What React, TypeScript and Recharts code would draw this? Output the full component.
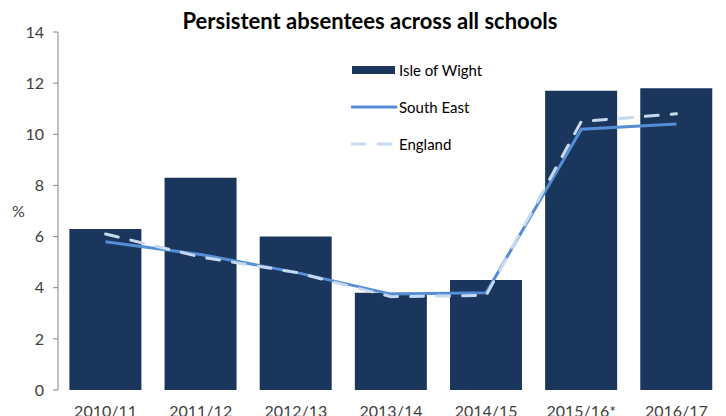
import {
  ComposedChart,
  Bar,
  Line,
  XAxis,
  YAxis,
  Legend,
} from "recharts";

const years = ["2010/11", "2011/12", "2012/13", "2013/14", "2014/15", "2015/16*", "2016/17"];
const isleOfWight = [6.3, 8.3, 6.0, 3.8, 4.3, 11.7, 11.8];
const southEast = [5.8, 5.3, 4.6, 3.75, 3.8, 10.2, 10.4];
const england = [6.1, 5.2, 4.6, 3.65, 3.7, 10.5, 10.8];
const yTicks = [0, 2, 4, 6, 8, 10, 12, 14];
const boundaryTicks = [0, 1, 2, 3, 4, 5, 6, 7];

const data = years.map((year, i) => ({
  year,
  iow: isleOfWight[i],
  se: southEast[i],
  eng: england[i],
}));

const FONT = "Lato, 'Open Sans', sans-serif";
const NAVY = "#1b365d";
const SE_BLUE = "#558ed5";
const ENG_BLUE = "#c6d9f1";
const AXIS = "#868686";

function ChartLegend() {
  const row = { display: "flex", alignItems: "center", height: 37, fontSize: 15, color: "#000" };
  return (
    <div style={{ fontFamily: FONT }}>
      <div style={row}>
        <svg width={48} height={10}>
          <rect x={1} y={1} width={43} height={8} fill={NAVY} />
        </svg>
        <span>Isle of Wight</span>
      </div>
      <div style={row}>
        <svg width={48} height={10}>
          <line x1={1} y1={5} x2={45} y2={5} stroke={SE_BLUE} strokeWidth={3} strokeLinecap="round" />
        </svg>
        <span>South East</span>
      </div>
      <div style={row}>
        <svg width={48} height={10}>
          <line x1={1} y1={5} x2={45} y2={5} stroke={ENG_BLUE} strokeWidth={3} strokeDasharray="13 13" strokeLinecap="round" />
        </svg>
        <span>England</span>
      </div>
    </div>
  );
}

export default function App() {
  return (
    <div style={{ position: "absolute", left: 0, top: 0, width: 726, height: 416, background: "#fff", fontFamily: FONT }}>
      <div
        style={{
          position: "absolute",
          left: 0,
          width: 740,
          top: 7,
          textAlign: "center",
          fontSize: 22,
          fontWeight: 700,
          color: "#000",
        }}
      >
        Persistent absentees across all schools
      </div>
      <ComposedChart
        width={726}
        height={416}
        data={data}
        margin={{ top: 32, right: 2, left: 0, bottom: 0 }}
        barCategoryGap="12%"
      >
        <XAxis
          xAxisId="grid"
          type="number"
          domain={[0, 7]}
          ticks={boundaryTicks}
          tick={false}
          tickSize={6}
          height={0}
          axisLine={{ stroke: AXIS }}
          tickLine={{ stroke: AXIS }}
        />
        <XAxis
          xAxisId="cat"
          dataKey="year"
          axisLine={false}
          tickLine={false}
          tickMargin={10}
          height={26}
          interval={0}
          tick={{ fill: "#404040", fontSize: 16, fontFamily: FONT }}
        />
        <YAxis
          width={58}
          domain={[0, 14]}
          ticks={yTicks}
          tickSize={5}
          tickMargin={9}
          axisLine={{ stroke: AXIS }}
          tickLine={{ stroke: AXIS }}
          tick={{ fill: "#404040", fontSize: 16, fontFamily: FONT }}
          label={{ value: "%", position: "insideLeft", offset: 12, fill: "#404040", fontSize: 16, fontFamily: FONT }}
        />
        <Legend
          verticalAlign="middle"
          align="center"
          layout="horizontal"
          wrapperStyle={{ left: 351, top: 51, width: 200 }}
          content={() => <ChartLegend />}
        />
        <Bar xAxisId="cat" dataKey="iow" name="Isle of Wight" fill={NAVY} isAnimationActive={false} />
        <Line
          xAxisId="cat"
          dataKey="se"
          name="South East"
          stroke={SE_BLUE}
          strokeWidth={3}
          dot={false}
          activeDot={false}
          isAnimationActive={false}
        />
        <Line
          xAxisId="cat"
          dataKey="eng"
          name="England"
          stroke={ENG_BLUE}
          strokeWidth={3}
          strokeDasharray="13 13"
          strokeLinecap="round"
          dot={false}
          activeDot={false}
          isAnimationActive={false}
        />
      </ComposedChart>
    </div>
  );
}
